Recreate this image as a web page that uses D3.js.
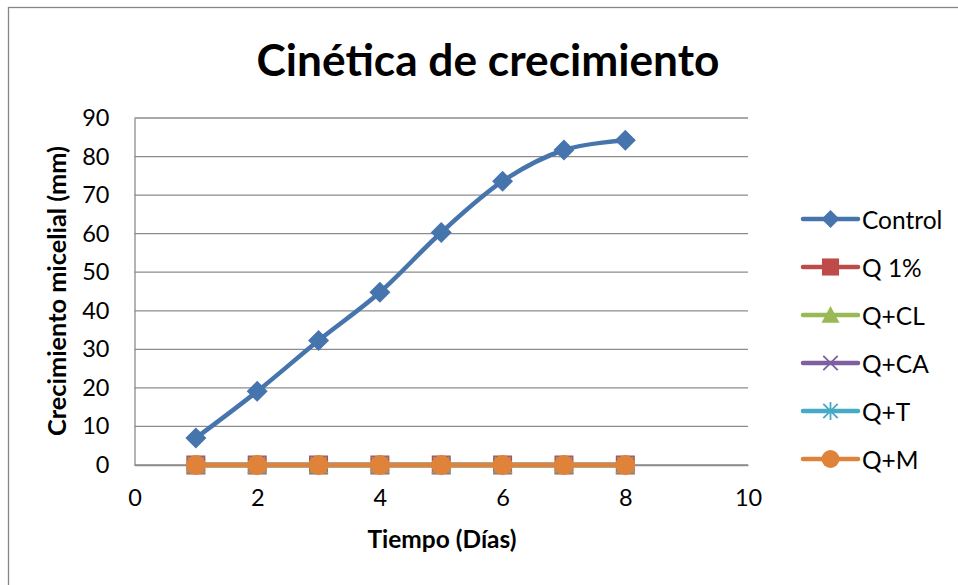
<!DOCTYPE html>
<html>
<head>
<meta charset="utf-8">
<script src="https://cdn.jsdelivr.net/npm/d3@7"></script>
<style>
  html, body { margin: 0; padding: 0; background: #ffffff; }
  svg { display: block; font-family: Lato, "Open Sans", "Noto Sans", sans-serif; }
</style>
</head>
<body>
<svg id="chart" width="958" height="585"></svg>
<script>
// Días de incubación
const dias = [1, 2, 3, 4, 5, 6, 7, 8];

// Crecimiento micelial (mm) por tratamiento
const control = [7.0, 19.1, 32.3, 44.8, 60.3, 73.6, 81.7, 84.2];
const q1 = [0, 0, 0, 0, 0, 0, 0, 0];
const qCL = [0, 0, 0, 0, 0, 0, 0, 0];
const qCA = [0, 0, 0, 0, 0, 0, 0, 0];
const qT = [0, 0, 0, 0, 0, 0, 0, 0];
const qM = [0, 0, 0, 0, 0, 0, 0, 0];

const seriesNames = ["Control", "Q 1%", "Q+CL", "Q+CA", "Q+T", "Q+M"];
const seriesValues = [control, q1, qCL, qCA, qT, qM];
const seriesColors = ["#4674AD", "#BE4B48", "#98B954", "#7D60A0", "#46AAC5", "#DE8339"];
const seriesMarkers = ["diamond", "square", "triangle", "cross", "asterisk", "circle"];

const xTicks = [0, 2, 4, 6, 8, 10];
const yTicks = [0, 10, 20, 30, 40, 50, 60, 70, 80, 90];

const titulo = "Cinética de crecimiento";
const tituloX = "Tiempo (Días)";
const tituloY = "Crecimiento micelial (mm)";

const svg = d3.select("#chart");

// Outer chart frame
svg.append("rect")
  .attr("x", 8.5).attr("y", 7.5)
  .attr("width", 980).attr("height", 600)
  .attr("fill", "#ffffff")
  .attr("stroke", "#868686").attr("stroke-width", 1.3);

const x = d3.scaleLinear().domain([0, 10]).range([134.5, 748]);
const y = d3.scaleLinear().domain([0, 90]).range([465, 118]);

// Gridlines
svg.append("g")
  .selectAll("line")
  .data(yTicks)
  .join("line")
  .attr("x1", x(0)).attr("x2", x(10))
  .attr("y1", d => y(d)).attr("y2", d => y(d))
  .attr("stroke", "#8c8c8c").attr("stroke-width", 1.3);

// Y axis
const yAxis = svg.append("g")
  .attr("transform", `translate(${x(0)},0)`)
  .call(d3.axisLeft(y).tickValues(yTicks).tickSize(0).tickPadding(25).tickFormat(d3.format("d")));
yAxis.select(".domain").attr("stroke", "#8c8c8c").attr("stroke-width", 1.3);
yAxis.selectAll("text")
  .attr("font-family", "Lato, sans-serif")
  .attr("font-size", 23.5).attr("fill", "#000");

// X axis
const xAxis = svg.append("g")
  .attr("transform", `translate(0,${y(0)})`)
  .call(d3.axisBottom(x).tickValues(xTicks).tickSize(0).tickPadding(24).tickFormat(d3.format("d")));
xAxis.select(".domain").attr("stroke", "#8c8c8c").attr("stroke-width", 1.3);
xAxis.selectAll("text")
  .attr("font-family", "Lato, sans-serif")
  .attr("font-size", 23.5).attr("fill", "#000");

// Fit a text element's font size so that it spans the given width
function fitWidth(sel, target) {
  const node = sel.node();
  const len = node.getComputedTextLength();
  const fs = parseFloat(sel.attr("font-size"));
  sel.attr("font-size", (fs * target / len).toFixed(2));
}

// Titles
const t = svg.append("text")
  .attr("x", 488).attr("y", 76)
  .attr("text-anchor", "middle")
  .attr("font-weight", "bold").attr("font-size", 42)
  .text(titulo);
fitWidth(t, 463);

const tx = svg.append("text")
  .attr("x", 442).attr("y", 548)
  .attr("text-anchor", "middle")
  .attr("font-weight", "bold").attr("font-size", 23)
  .text(tituloX);
fitWidth(tx, 149);

const ty = svg.append("text")
  .attr("transform", `translate(66,${(y(0) + y(90)) / 2 - 0.5}) rotate(-90)`)
  .attr("text-anchor", "middle")
  .attr("font-weight", "bold").attr("font-size", 23)
  .text(tituloY);
fitWidth(ty, 290);

// Marker drawing
function drawMarker(g, type, color, size) {
  const h = size / 2;
  if (type === "diamond") {
    g.append("path").attr("d", `M0,${-h}L${h},0L0,${h}L${-h},0Z`).attr("fill", color);
  } else if (type === "square") {
    g.append("rect").attr("x", -h * 0.95).attr("y", -h * 0.95)
      .attr("width", h * 1.9).attr("height", h * 1.9).attr("fill", color);
  } else if (type === "triangle") {
    g.append("path").attr("d", `M0,${-h}L${h},${h * 0.85}L${-h},${h * 0.85}Z`).attr("fill", color);
  } else if (type === "cross") {
    const c = h * 0.8;
    g.append("path").attr("d", `M${-c},${-c}L${c},${c}M${-c},${c}L${c},${-c}`)
      .attr("stroke", color).attr("stroke-width", 1.8).attr("fill", "none");
  } else if (type === "asterisk") {
    const c = h * 0.8;
    g.append("path").attr("d", `M${-c},${-c}L${c},${c}M${-c},${c}L${c},${-c}M0,${-h}L0,${h}`)
      .attr("stroke", color).attr("stroke-width", 1.8).attr("fill", "none");
  } else if (type === "circle") {
    g.append("circle").attr("r", h).attr("fill", color);
  }
}

// Series lines and markers
const line = d3.line()
  .x((d, i) => x(dias[i]))
  .y(d => y(d))
  .curve(d3.curveCatmullRom.alpha(0));

const plot = svg.append("g");
seriesValues.forEach((vals, s) => {
  const g = plot.append("g");
  g.append("path")
    .datum(vals)
    .attr("d", line)
    .attr("fill", "none")
    .attr("stroke", seriesColors[s])
    .attr("stroke-width", 4.5)
    .attr("stroke-linecap", "round")
    .attr("stroke-linejoin", "round");
  vals.forEach((v, i) => {
    const m = g.append("g").attr("transform", `translate(${x(dias[i])},${y(v)})`);
    drawMarker(m, seriesMarkers[s], seriesColors[s], s === 0 ? 21 : 20);
  });
});

// Legend
const legend = svg.append("g");
seriesNames.forEach((name, s) => {
  const ly = 219 + s * 48;
  const row = legend.append("g").attr("transform", `translate(0,${ly})`);
  row.append("line")
    .attr("x1", 803).attr("x2", 858)
    .attr("stroke", seriesColors[s]).attr("stroke-width", 4.5)
    .attr("stroke-linecap", "round");
  const m = row.append("g").attr("transform", "translate(830.5,0)");
  drawMarker(m, seriesMarkers[s], seriesColors[s], 18);
  row.append("text")
    .attr("x", 862).attr("y", 0)
    .attr("dominant-baseline", "central")
    .attr("font-size", 24.5)
    .text(name);
});
</script>
</body>
</html>
